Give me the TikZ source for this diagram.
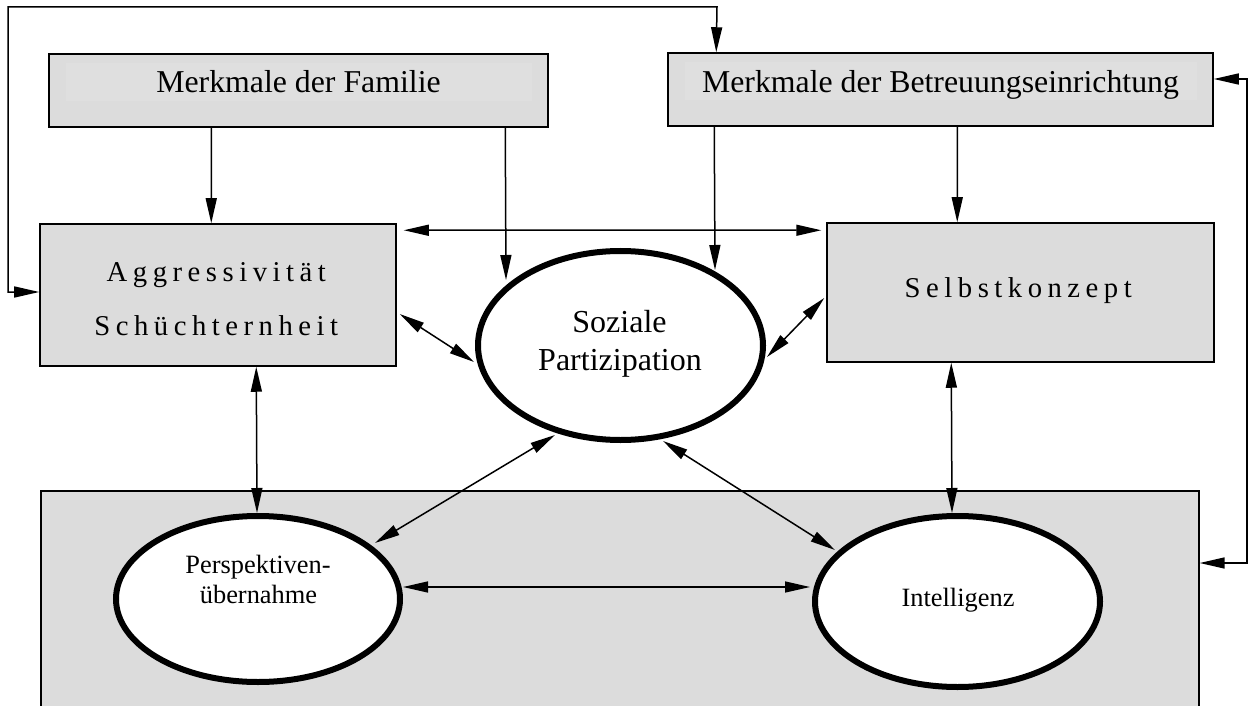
\documentclass[tikz,border=0pt]{standalone}
\usepackage{fontspec}
\setmainfont{Liberation Serif}
\usetikzlibrary{arrows.meta,shapes.geometric,calc}
\definecolor{boxgray}{RGB}{220,220,220}
\definecolor{innergray}{RGB}{223,223,223}
\newcommand\spacedword[1]{\spacedaux#1\relax}
\def\spacedaux#1{\ifx\relax#1\else#1\kern5.5bp\expandafter\spacedaux\fi}
\begin{document}
\begin{tikzpicture}[x=1bp,y=-1bp,
  box/.style={draw, line width=1.5bp, fill=boxgray, rectangle, inner sep=0pt},
  topbox/.style={box, path picture={\fill[innergray] ([shift={(17bp,-9bp)}]path picture bounding box.north west) rectangle ([shift={(-16bp,26bp)}]path picture bounding box.south east);}},
  oval/.style={draw, ellipse, line width=6bp, fill=white, inner sep=0pt},
  tip/.tip={Triangle[length=25bp,width=11bp]},
  conn/.style={line width=1.5bp, -tip},
  conntwo/.style={line width=1.5bp, tip-tip},
  toptxt/.style={font=\fontsize{31.8bp}{38bp}\selectfont, inner sep=0pt},
  spacedtxt/.style={font=\fontsize{28.7bp}{34bp}\selectfont, inner sep=0pt},
  soztxt/.style={font=\fontsize{32bp}{38bp}\selectfont, inner sep=0pt},
  smalltxt/.style={font=\fontsize{26.4bp}{30bp}\selectfont, inner sep=0pt}
]
\useasboundingbox (0,0) rectangle (1251,706);
\clip (0,0) rectangle (1251,706);

% bottom panel
\node[box, line width=1.3bp, minimum width=1158bp, minimum height=269bp] (bot) at (620,625.5) {};

% boxes
\node[topbox, minimum width=499bp, minimum height=73bp] (fam) at (298.5,90.5) {};
\node[topbox, minimum width=545bp, minimum height=73bp] (bet) at (940.5,89.5) {};
\node[box, minimum width=356bp, minimum height=142bp] (aggr) at (218,295) {};
\node[box, minimum width=387bp, minimum height=139bp] (selb) at (1020.5,292.5) {};

% ellipses
\node[oval, minimum width=285bp, minimum height=189bp] (soz) at (620.5,345.5) {};
\node[oval, minimum width=284bp, minimum height=166bp] (persp) at (258,599) {};
\node[oval, minimum width=285bp, minimum height=171bp] (intel) at (957.5,601.5) {};

% texts
\node[toptxt, anchor=base] (famtxt) at (298.5,93) {Merkmale der Familie};
\node[toptxt, anchor=base] (bettxt) at (940.5,93) {Merkmale der Betreuungseinrichtung};
\node[spacedtxt, anchor=base] (aggrtxt) at (219,281) {\spacedword{Aggressivität}};
\node[spacedtxt, anchor=base] (schtxt) at (219,335) {\spacedword{Schüchternheit}};
\node[spacedtxt, anchor=base] (selbtxt) at (1021,297) {\spacedword{Selbstkonzept}};
\node[soztxt, anchor=base] (soztxta) at (619.5,332) {Soziale};
\node[soztxt, anchor=base] (soztxtb) at (620,370) {Partizipation};
\node[smalltxt, anchor=base] (persptxta) at (258,573) {Perspektiven-};
\node[smalltxt, anchor=base] (persptxtb) at (258.5,603) {übernahme};
\node[smalltxt, anchor=base] (inteltxt) at (958,606) {Intelligenz};

% feedback lines
\coordinate (fbTL) at (8,7);
\coordinate (fbTR) at (717,7);
\coordinate (fbR) at (1247,563);
\draw[conntwo] ([yshift=3bp]aggr.west) -| (fbTL) -- (fbTR) -- ([xshift=49bp]bet.north west);
\draw[conntwo] ([yshift=10.5bp]bet.east) -| (fbR) -- (fbR -| bot.east);

% top-down arrows
\draw[conn] ([xshift=163bp]fam.south west) -- ([xshift=172bp]aggr.north west);
\draw[conn] ([xshift=457bp]fam.south west) -- ($(soz.center)+(-114.5,-65.5)$);
\draw[conn] ([xshift=47bp]bet.south west) -- ($(soz.center)+(94.5,-75.5)$);
\draw[conn] ([xshift=290bp]bet.south west) -- ([xshift=131bp]selb.north west);

% mutual relations
\draw[conntwo] ([shift={(7bp,-7bp)}]aggr.north east) -- ([shift={(-5bp,-8bp)}]selb.north west);
\draw[conntwo] ([shift={(3bp,-19bp)}]aggr.east) -- ($(soz.center)+(-146.5,16.5)$);
\draw[conntwo] ([shift={(-2bp,-5.5bp)}]selb.west) -- ($(soz.center)+(146.5,11.5)$);
\draw[conntwo] ([xshift=217bp]aggr.south west) -- ([xshift=-1bp]persp.north);
\draw[conntwo] ([xshift=125bp]selb.south west) -- ($(intel.north)+(-5.5,0)$);
\draw[conntwo] ($(soz.center)+(-65.5,89.5)$) -- ($(persp.center)+(117,-56)$);
\draw[conntwo] ($(soz.center)+(42.5,95.5)$) -- ($(intel.center)+(-122.5,-51.5)$);
\draw[conntwo] ($(persp.center)+(145,-12)$) -- ($(intel.center)+(-147.5,-14.5)$);
\end{tikzpicture}
\end{document}
